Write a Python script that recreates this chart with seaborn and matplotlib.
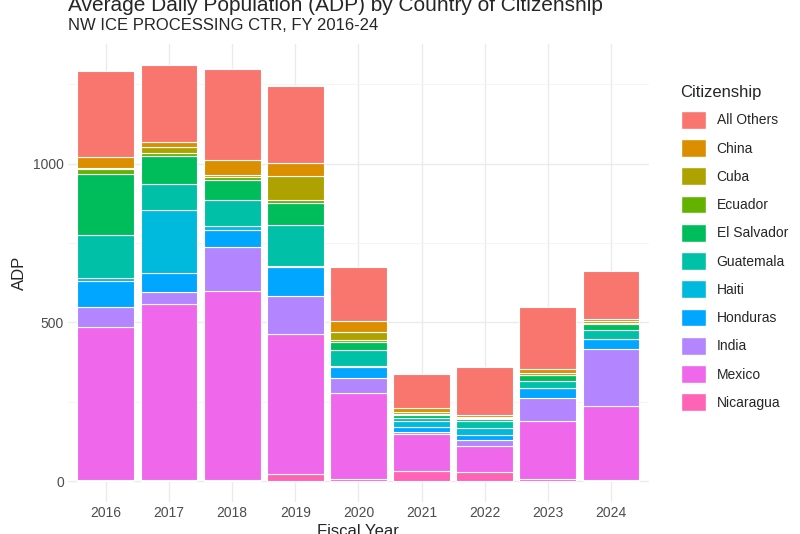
import numpy as np
import matplotlib
matplotlib.use("Agg")
import matplotlib.pyplot as plt
import matplotlib.patches as mpatches
import seaborn as sns

years = ["2016", "2017", "2018", "2019", "2020", "2021", "2022", "2023", "2024"]
# stacked bottom -> top
groups = ["Nicaragua", "Mexico", "India", "Honduras", "Haiti", "Guatemala",
          "El Salvador", "Ecuador", "Cuba", "China", "All Others"]
nicaragua = [5, 5, 3, 22, 7, 32, 28, 7, 4]
mexico = [481, 553, 596, 442, 270, 117, 82, 182, 234]
india = [61, 37, 138, 120, 48, 7, 19, 73, 178]
honduras = [82, 62, 55, 92, 36, 13, 15, 31, 31]
haiti = [10, 198, 12, 2, 2, 19, 24, 1, 1]
guatemala = [135, 82, 81, 128, 50, 12, 21, 22, 27]
el_salvador = [193, 88, 63, 69, 24, 8, 8, 17, 20]
ecuador = [17, 9, 9, 12, 7, 2, 2, 2, 2]
cuba = [3, 17, 8, 74, 26, 9, 4, 6, 8]
china = [35, 17, 45, 41, 33, 10, 6, 13, 7]
all_others = [270, 244, 287, 242, 172, 108, 150, 196, 150]

values = [nicaragua, mexico, india, honduras, haiti, guatemala,
          el_salvador, ecuador, cuba, china, all_others]
colors = {"All Others": "#F8766D", "China": "#DB8E00", "Cuba": "#AEA200",
          "Ecuador": "#64B200", "El Salvador": "#00BD5C", "Guatemala": "#00C1A7",
          "Haiti": "#00BADE", "Honduras": "#00A6FF", "India": "#B385FF",
          "Mexico": "#EF67EB", "Nicaragua": "#FF63B6"}

sns.set_theme(style="whitegrid")
plt.rcParams["font.family"] = ["Liberation Sans", "DejaVu Sans"]

fig = plt.figure(figsize=(8, 5.34), dpi=100)
ax = fig.add_axes([0.085, 0.06, 0.726, 0.858])
x = np.arange(len(years))
bottom = np.zeros(len(years))
for g, v in zip(groups, values):
    ax.bar(x, v, bottom=bottom, width=0.9, color=colors[g], edgecolor="white", linewidth=0.8)
    bottom += np.array(v)

ax.set_xlim(-0.6, len(years) - 0.4)
ax.set_ylim(-65.6, 1377.6)
ax.set_xticks(x, years)
ax.set_yticks([0, 500, 1000])
ax.set_yticks([250, 750, 1250], minor=True)
ax.grid(True, which="major", color="#EBEBEB", linewidth=1.0)
ax.grid(True, which="minor", axis="y", color="#F3F3F3", linewidth=0.6)
ax.set_axisbelow(True)
for s in ax.spines.values():
    s.set_visible(False)
ax.tick_params(labelsize=10, colors="#4D4D4D", length=0, pad=3)
ax.set_xlabel("Fiscal Year", fontsize=12, labelpad=3)
ax.set_ylabel("ADP", fontsize=12)

fig.text(0.085, 0.99, "Average Daily Population (ADP) by Country of Citizenship",
         fontsize=15, va="center")
fig.text(0.085, 0.953, "NW ICE PROCESSING CTR, FY 2016-24", fontsize=12, va="center")

handles = [mpatches.Patch(facecolor=colors[g], edgecolor="white", label=g)
           for g in reversed(groups)]
leg = fig.legend(handles=handles, title="Citizenship", loc="center left",
                 bbox_to_anchor=(0.835, 0.535), frameon=False, fontsize=10,
                 title_fontsize=12, handlelength=1.8, handleheight=1.6,
                 labelspacing=0.75, handletextpad=0.8)
leg._legend_box.align = "left"

fig.savefig("out.png", dpi=100)
